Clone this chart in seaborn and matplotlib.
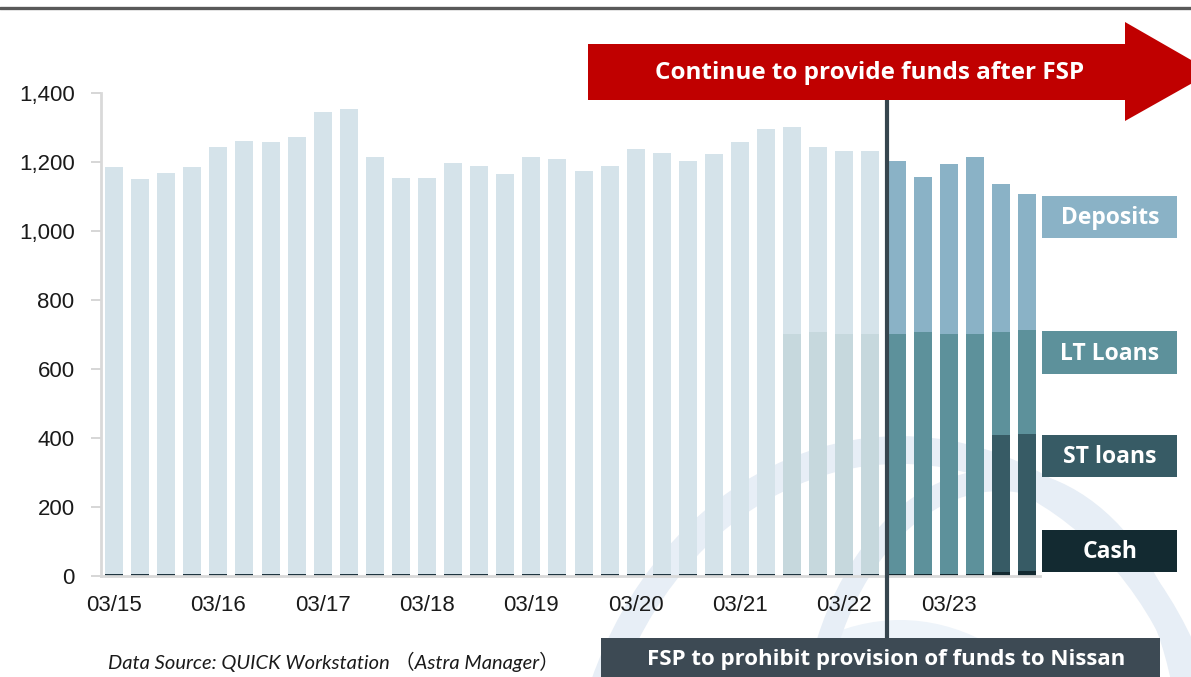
import matplotlib
matplotlib.use("Agg")
import matplotlib.pyplot as plt
import seaborn as sns
import numpy as np
from matplotlib.patches import Polygon, Rectangle, Ellipse
from matplotlib.lines import Line2D

# ---------------- data ----------------
quarters = ["03/15", "06/15", "09/15", "12/15", "03/16", "06/16", "09/16", "12/16",
            "03/17", "06/17", "09/17", "12/17", "03/18", "06/18", "09/18", "12/18",
            "03/19", "06/19", "09/19", "12/19", "03/20", "06/20", "09/20", "12/20",
            "03/21", "06/21", "09/21", "12/21", "03/22", "06/22", "09/22", "12/22",
            "03/23", "06/23", "09/23", "12/23"]
tick_labels = ["03/15", "03/16", "03/17", "03/18", "03/19", "03/20", "03/21", "03/22", "03/23"]

cash = [4, 4, 4, 4, 4, 4, 4, 4, 4, 4, 4, 4, 4, 4, 4, 4, 4, 4,
        4, 4, 4, 4, 4, 4, 4, 4, 4, 4, 4, 4, 4, 4, 4, 4, 9, 13]
st_loans = [0, 0, 0, 0, 0, 0, 0, 0, 0, 0, 0, 0, 0, 0, 0, 0, 0, 0,
            0, 0, 0, 0, 0, 0, 0, 0, 0, 0, 0, 0, 0, 0, 0, 0, 400, 399]
lt_loans = [0, 0, 0, 0, 0, 0, 0, 0, 0, 0, 0, 0, 0, 0, 0, 0, 0, 0,
            0, 0, 0, 0, 0, 0, 0, 0, 697, 703, 697, 697, 697, 703, 697, 697, 298, 299]
deposits = [1182, 1146, 1165, 1182, 1239, 1258, 1254, 1267, 1340, 1349, 1210, 1148,
            1148, 1193, 1185, 1161, 1210, 1204, 1169, 1185, 1234, 1222, 1198, 1218,
            1255, 1292, 599, 535, 530, 530, 501, 449, 493, 512, 429, 396]

series_names = ["Deposits", "LT Loans", "ST loans", "Cash"]
arrow_text = "Continue to provide funds after FSP"
box_text = "FSP to prohibit provision of funds to Nissan"
source_text = "Data Source: QUICK Workstation （Astra Manager）"

# ---------------- styling ----------------
W, H = 1191, 677
fig = plt.figure(figsize=(W / 100, H / 100), dpi=100)
sns.set_style("white")
plt.rcParams["font.family"] = ["Liberation Sans", "DejaVu Sans"]

def fx(x):
    return x / W

def fy(y):
    return 1 - y / H

# watermark (faint logo arcs), kept behind the axes
wm = "#e7eef6"
fig.patches.append(Ellipse((fx(900), fy(830)), 640 / W, 760 / H, transform=fig.transFigure,
                           fill=False, edgecolor=wm, linewidth=20, zorder=-2))
fig.patches.append(Ellipse((fx(900), fy(900)), 440 / W, 560 / H, transform=fig.transFigure,
                           facecolor="#eef4fa", edgecolor="none", zorder=-2))
fig.patches.append(Ellipse((fx(1000), fy(760)), 380 / W, 560 / H, transform=fig.transFigure,
                           fill=False, edgecolor=wm, linewidth=16, zorder=-2))

ax = fig.add_axes([fx(101), fy(575.5), 939 / W, 482.5 / H])
ax.set_facecolor("none")
ax.set_zorder(1)

n = len(quarters)
cash_a = np.array(cash, float)
st_top = cash_a + np.array(st_loans, float)
lt_top = st_top + np.array(lt_loans, float)
total = lt_top + np.array(deposits, float)

faded_until = 30  # bars before this index are faded
dep_cols = ["#d5e3ea" if i < faded_until else "#8ab2c6" for i in range(n)]
lt_cols = ["#c6d8dd" if i < faded_until else "#5d919b" for i in range(n)]
st_cols = ["#8fa5ab" if i < faded_until else "#375b65" for i in range(n)]
cash_cols = ["#1f3540" if i < faded_until else "#132a31" for i in range(n)]

bw = 0.69
for vals, cols in [(total, dep_cols), (lt_top, lt_cols), (st_top, st_cols), (cash_a, cash_cols)]:
    sns.barplot(x=quarters, y=vals, hue=quarters, palette=cols, legend=False,
                width=bw, saturation=1, ax=ax, order=quarters, hue_order=quarters,
                edgecolor="none", linewidth=0)

ax.set_xlim(-0.5, n - 0.5)
ax.set_ylim(0, 1400)
ax.set_yticks(range(0, 1401, 200))
ax.set_yticklabels([f"{v:,}" for v in range(0, 1401, 200)], fontsize=16, color="#1a1a1a")
ax.set_xticks(range(0, n, 4))
ax.set_xticklabels(tick_labels, fontsize=16, color="#1a1a1a")
ax.tick_params(axis="y", length=7, width=1.2, color="#d0d0d0", pad=12, left=True)
ax.tick_params(axis="x", length=0, pad=14)
ax.set_xlabel("")
ax.set_ylabel("")
for s in ["top", "right"]:
    ax.spines[s].set_visible(False)
for s in ["left", "bottom"]:
    ax.spines[s].set_color("#d9d9d9")
    ax.spines[s].set_linewidth(2)

# top rule
fig.lines.append(Line2D([0, 1], [fy(8), fy(8)], transform=fig.transFigure,
                        color="#595959", linewidth=2.4, zorder=3))

box_font = "Open Sans"

# red arrow
arrow_px = [(588, 44), (1125, 44), (1125, 22), (1212, 72), (1125, 121), (1125, 100), (588, 100)]
fig.patches.append(Polygon([(fx(x), fy(y)) for x, y in arrow_px], closed=True,
                           transform=fig.transFigure, facecolor="#c00000",
                           edgecolor="none", zorder=5))
fig.text(fx(870), fy(73), arrow_text, ha="center", va="center", color="white",
         fontsize=17.5, fontweight="bold", family=box_font, zorder=6)

# vertical divider
fig.lines.append(Line2D([fx(887), fx(887)], [fy(100), fy(638)], transform=fig.transFigure,
                        color="#36454e", linewidth=3, zorder=4))

# bottom box
fig.patches.append(Rectangle((fx(601), fy(677)), 559 / W, 39 / H, transform=fig.transFigure,
                             facecolor="#3d4a54", edgecolor="none", zorder=5))
fig.text(fx(886), fy(660), box_text, ha="center", va="center", color="white",
         fontsize=16, fontweight="bold", family=box_font, zorder=6)

# legend boxes
legend_cols = ["#8ab2c6", "#5d919b", "#375b65", "#132a31"]
legend_y = [(196, 238), (331, 374), (435, 477), (530, 572)]
for name, col, (y0, y1) in zip(series_names, legend_cols, legend_y):
    fig.patches.append(Rectangle((fx(1042), fy(y1)), 135 / W, (y1 - y0) / H,
                                 transform=fig.transFigure, facecolor=col,
                                 edgecolor="none", zorder=5))
    fig.text(fx(1110), fy((y0 + y1) / 2 + 1), name, ha="center", va="center", color="white",
             fontsize=16.5, fontweight="bold", family=box_font, zorder=6)

# source
fig.text(fx(334), fy(662), source_text, ha="center", va="center", color="#1a1a1a",
         fontsize=14.5, style="italic", family=["Lato", "Noto Sans CJK JP"])

fig.savefig("out.png", dpi=100)
